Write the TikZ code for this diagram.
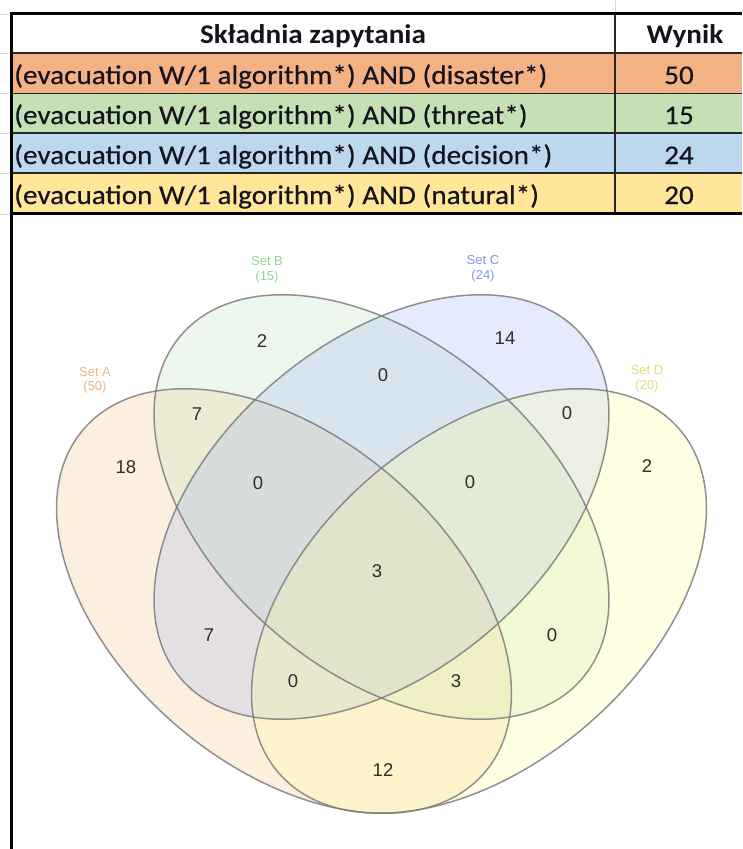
\documentclass[tikz,border=0pt]{standalone}
\usepackage{fontspec}
\setmainfont{Liberation Sans}
\newfontfamily\cellfont[FakeStretch=1.08,FakeBold=0.35]{Carlito}
\newfontfamily\cellboldfont[FakeStretch=1.08]{Carlito Bold}
\newfontfamily\vennfont{Liberation Sans}

% table row colours
\definecolor{rowA}{RGB}{244,177,131}
\definecolor{rowB}{RGB}{197,224,180}
\definecolor{rowC}{RGB}{189,215,238}
\definecolor{rowD}{RGB}{255,230,153}
\definecolor{gridgray}{RGB}{215,215,215}
\definecolor{celltext}{RGB}{20,20,30}
% set fills (used with low opacity)
\definecolor{setA}{RGB}{251,195,123}
\definecolor{setB}{RGB}{187,227,187}
\definecolor{setC}{RGB}{155,179,247}
\definecolor{setD}{RGB}{255,255,151}
% set label colours
\definecolor{labA}{RGB}{240,180,128}
\definecolor{labB}{RGB}{150,212,150}
\definecolor{labC}{RGB}{130,148,238}
\definecolor{labD}{RGB}{226,222,120}
\definecolor{numgray}{RGB}{45,45,45}
\definecolor{edgegray}{RGB}{125,125,125}

\begin{document}
\begin{tikzpicture}[x=1pt,y=-1pt,
  cell/.style={font=\cellfont\fontsize{27}{30}\selectfont, text=celltext, inner sep=0pt, anchor=base west},
  cellc/.style={cell, anchor=base},
  headc/.style={cellc, font=\cellboldfont\fontsize{27}{30}\selectfont},
  thinrule/.style={line width=1.3pt, black!85},
  thickrule/.style={line width=3pt, black},
  stub/.style={gridgray, line width=1pt},
  setfill/.style={fill opacity=0.25},
  setedge/.style={draw=edgegray, line width=1.5pt, draw opacity=0.85},
  setlab/.style={font=\vennfont\fontsize{13}{14.5}\selectfont, align=center, inner sep=0pt},
  num/.style={font=\vennfont\fontsize{18.5}{20}\selectfont, text=numgray, inner sep=0pt}]

\useasboundingbox (0,0) rectangle (742,849);
\clip (0,0) rectangle (742,849);
\fill[white] (0,0) rectangle (742,849);

% ---------- query table ----------
\fill[rowA] (11,53) rectangle (742,93.5);
\fill[rowB] (11,93.5) rectangle (742,133);
\fill[rowC] (11,133) rectangle (742,173);
\fill[rowD] (11,173) rectangle (742,213.5);

% spreadsheet grid stubs outside the frame
\foreach \yy in {14,53,93.5,133,173,214}
  \draw[stub] (0,\yy) -- (9,\yy);
\draw[stub] (615,0) -- (615,12);

\foreach \yy in {53,93.5,133,173}
  \draw[thinrule] (11,\yy) -- (742,\yy);
\draw[thinrule] (615,13) -- (615,213.5);
\draw[thickrule] (742,13) -- (11,13) -- (11,849);
\draw[thickrule] (11,213.5) -- (742,213.5);

\node[headc] (hquery) at (313,43.5) {Składnia zapytania};
\node[headc] (hres) at (685,43.5) {Wynik};
\node[cell] (q1) at (14,84) {(evacuation W/1 algorithm*) AND (disaster*)};
\node[cell] (q2) at (14,124) {(evacuation W/1 algorithm*) AND (threat*)};
\node[cell] (q3) at (14,164) {(evacuation W/1 algorithm*) AND (decision*)};
\node[cell] (q4) at (14,204) {(evacuation W/1 algorithm*) AND (natural*)};
\node[cellc] (r1) at (679,84) {50};
\node[cellc] (r2) at (679,124) {15};
\node[cellc] (r3) at (679,164) {24};
\node[cellc] (r4) at (679,204) {20};

% ---------- four-set Venn diagram ----------
\coordinate (cA) at (284,601);
\coordinate (cB) at (381.5,507);
\coordinate (cC) at (381.5,507);
\coordinate (cD) at (479,601);

\begin{scope}[setfill]
  \fill[setA, rotate around={-40.5:(cA)}] (cA) ellipse [x radius=264pt, y radius=164.5pt];
  \fill[setB, rotate around={-40.5:(cB)}] (cB) ellipse [x radius=264pt, y radius=164.5pt];
  \fill[setC, rotate around={40.5:(cC)}] (cC) ellipse [x radius=264pt, y radius=164.5pt];
  \fill[setD, rotate around={40.5:(cD)}] (cD) ellipse [x radius=264pt, y radius=164.5pt];
\end{scope}
\draw[setedge, rotate around={-40.5:(cA)}] (cA) ellipse [x radius=264pt, y radius=164.5pt];
\draw[setedge, rotate around={-40.5:(cB)}] (cB) ellipse [x radius=264pt, y radius=164.5pt];
\draw[setedge, rotate around={40.5:(cC)}] (cC) ellipse [x radius=264pt, y radius=164.5pt];
\draw[setedge, rotate around={40.5:(cD)}] (cD) ellipse [x radius=264pt, y radius=164.5pt];

% set captions
\node[setlab, text=labA] (labelA) at (95,380.5) {Set A\\(50)};
\node[setlab, text=labB] (labelB) at (267,270) {Set B\\(15)};
\node[setlab, text=labC] (labelC) at (483,269) {Set C\\(24)};
\node[setlab, text=labD] (labelD) at (647,379) {Set D\\(20)};

% region counts
\node[num] (nA) at (126,467) {18};
\node[num] (nB) at (262,341) {2};
\node[num] (nC) at (505,338) {14};
\node[num] (nD) at (647,466) {2};
\node[num] (nAB) at (197,414) {7};
\node[num] (nBC) at (383,375) {0};
\node[num] (nCD) at (567,413) {0};
\node[num] (nABC) at (258,483) {0};
\node[num] (nBCD) at (470,482) {0};
\node[num] (nABCD) at (377,571) {3};
\node[num] (nAC) at (209,635) {7};
\node[num] (nBD) at (552,635) {0};
\node[num] (nACD) at (293,681) {0};
\node[num] (nABD) at (456,681) {3};
\node[num] (nAD) at (383,770) {12};
\end{tikzpicture}
\end{document}
